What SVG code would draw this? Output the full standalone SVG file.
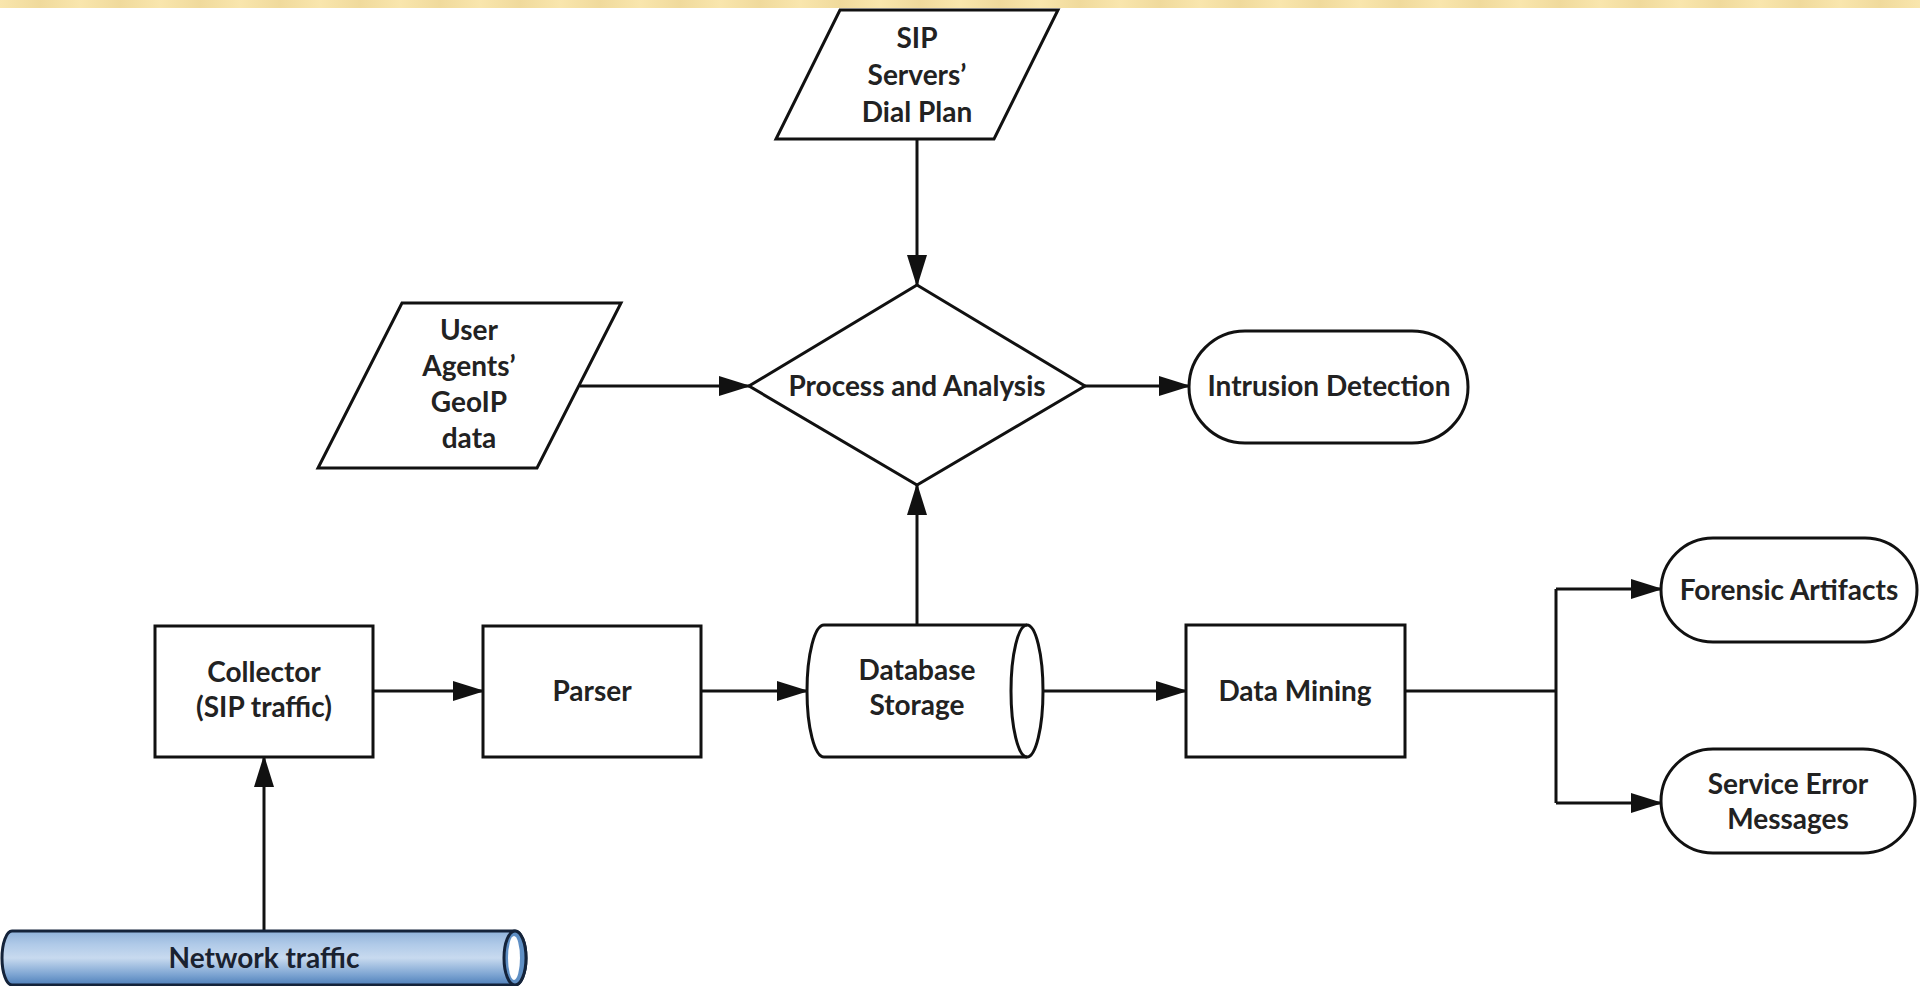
<svg xmlns="http://www.w3.org/2000/svg" width="1920" height="986" viewBox="0 0 1920 986">
<style>
.n{fill:#fff;stroke:#111;stroke-width:3;stroke-linejoin:miter}
.t{font-family:Lato,"Open Sans","Liberation Sans",sans-serif;font-weight:700;font-size:28px;fill:#222;text-anchor:middle}
.c{fill:none;stroke:#111;stroke-width:3}
.a{marker-end:url(#ah)}
</style>
<defs>
<marker id="ah" markerUnits="userSpaceOnUse" markerWidth="32" markerHeight="20" refX="30" refY="10" orient="auto">
<path d="M0,0 L32,10 L0,20 z" fill="#111"/>
</marker>
<linearGradient id="tube" x1="0" y1="0" x2="0" y2="1">
<stop offset="0" stop-color="#8fb2da"/>
<stop offset="0.25" stop-color="#b0cae8"/>
<stop offset="0.5" stop-color="#c8daef"/>
<stop offset="0.8" stop-color="#7fa6d3"/>
<stop offset="1" stop-color="#4f80ba"/>
</linearGradient>
<linearGradient id="band" x1="0" y1="0" x2="40" y2="0" gradientUnits="userSpaceOnUse" spreadMethod="reflect">
<stop offset="0" stop-color="#f9e6ad"/>
<stop offset="1" stop-color="#f0da9c"/>
</linearGradient>
</defs>
<rect x="0" y="0" width="1920" height="8" fill="url(#band)"/>

<g id="connectors">
<path class="c a" d="M917,139 L917,285"/>
<path class="c a" d="M580,386 L749,386"/>
<path class="c a" d="M1085,386 L1189,386"/>
<path class="c a" d="M917,625 L917,485"/>
<path class="c a" d="M373,691 L483,691"/>
<path class="c a" d="M701,691 L807,691"/>
<path class="c a" d="M1027,691 L1186,691"/>
<path class="c" d="M1405,691 L1556,691 M1556,589 L1556,803"/>
<path class="c a" d="M1556,589 L1661,589"/>
<path class="c a" d="M1556,803 L1661,803"/>
<path class="c a" d="M264,931 L264,757"/>
</g>

<g id="sip-dial-plan">
<polygon class="n" points="840,10 1058,10 994,139 776,139"/>
<text class="t" x="917" y="48">SIP</text>
<text class="t" x="917" y="85">Servers’</text>
<text class="t" x="917" y="122">Dial Plan</text>
</g>

<g id="user-agents">
<polygon class="n" points="402,303 621,303 537,468 318,468"/>
<text class="t" x="469" y="340">User</text>
<text class="t" x="469" y="376">Agents’</text>
<text class="t" x="469" y="412">GeoIP</text>
<text class="t" x="469" y="448">data</text>
</g>

<g id="process-analysis">
<polygon class="n" points="917,285 1085,386 917,485 749,386"/>
<text class="t" x="917" y="396">Process and Analysis</text>
</g>

<g id="intrusion-detection">
<rect class="n" x="1189" y="331" width="279" height="112" rx="56" ry="56"/>
<text class="t" x="1329" y="396">Intrusion Detection</text>
</g>

<g id="collector">
<rect class="n" x="155" y="626" width="218" height="131"/>
<text class="t" x="264" y="682">Collector</text>
<text class="t" x="264" y="717">(SIP traffic)</text>
</g>

<g id="parser">
<rect class="n" x="483" y="626" width="218" height="131"/>
<text class="t" x="592" y="701">Parser</text>
</g>

<g id="database-storage">
<path class="n" d="M824,625 L1027,625 A16,66 0 0 1 1027,757 L824,757 A17,66 0 0 1 824,625 Z"/>
<path class="c" d="M1027,625 A16,66 0 0 0 1027,757"/>
<text class="t" x="917" y="680">Database</text>
<text class="t" x="917" y="715">Storage</text>
</g>

<g id="data-mining">
<rect class="n" x="1186" y="625" width="219" height="132"/>
<text class="t" x="1295" y="701">Data Mining</text>
</g>

<g id="forensic-artifacts">
<rect class="n" x="1661" y="538" width="256" height="104" rx="52" ry="52"/>
<text class="t" x="1789" y="600">Forensic Artifacts</text>
</g>

<g id="service-error-messages">
<rect class="n" x="1661" y="749" width="254" height="104" rx="52" ry="52"/>
<text class="t" x="1788" y="794">Service Error</text>
<text class="t" x="1788" y="829">Messages</text>
</g>

<g id="network-traffic">
<path d="M12,931 L515,931 A11,27 0 0 1 515,985 L12,985 A10,27 0 0 1 12,931 Z" fill="url(#tube)" stroke="#14233a" stroke-width="3"/>
<ellipse cx="515" cy="958" rx="11" ry="27" fill="#5f8fc4" stroke="#14233a" stroke-width="3"/>
<ellipse cx="514" cy="958" rx="6" ry="22" fill="#fff"/>
<text class="t" x="264" y="968" style="fill:#1a2230">Network traffic</text>
</g>
</svg>
